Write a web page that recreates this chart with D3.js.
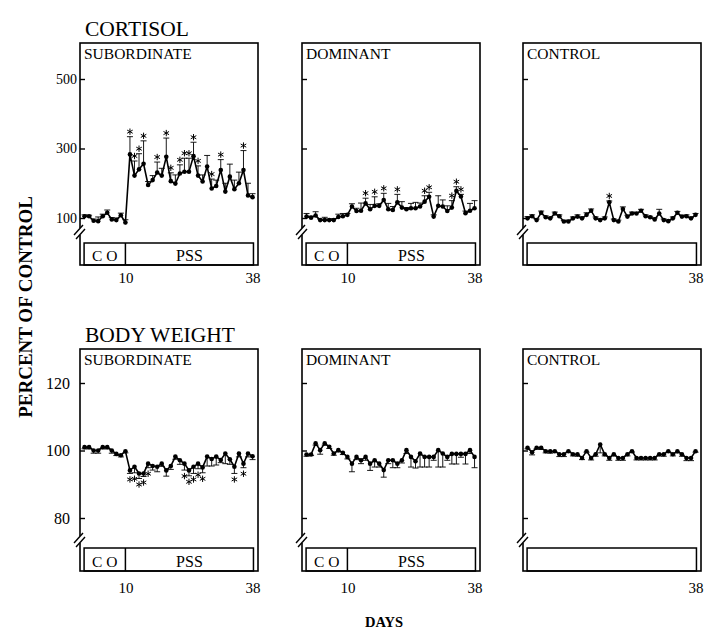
<!DOCTYPE html>
<html><head><meta charset="utf-8">
<script src="https://cdn.jsdelivr.net/npm/d3@7"></script>
<style>
body{margin:0;background:#fff}
svg{display:block}
text{font-family:"Liberation Serif","Times New Roman",serif;fill:#000}
</style>
</head><body>
<svg id="c" width="720" height="644"></svg>
<script>
// ---------------- data ----------------
const days = [1,2,3,4,5,6,7,8,9,10,11,12,13,14,15,16,17,18,19,20,21,22,23,24,25,26,27,28,29,30,31,32,33,34,35,36,37,38];

const cortSub    = [105,105,92,91,105,115,96,94,108,87,283,222,240,256,195,209,231,222,276,206,199,228,233,233,278,222,205,248,185,192,238,176,219,183,200,238,165,160];
const cortSubErr = [4,3,5,12,6,8,5,6,6,8,51,42,45,66,10,13,30,21,54,24,25,25,39,39,40,28,19,32,27,17,30,24,36,26,32,56,35,10];
const cortSubStars = [11,12,13,14,17,19,20,22,23,24,25,26,29,31,36];

const cortDom    = [104,101,107,94,94,94,94,103,105,109,133,120,121,142,125,135,135,152,125,123,145,130,125,128,128,133,147,161,104,135,133,120,130,178,162,114,121,128];
const cortDomErr = [9,4,11,3,8,3,4,8,8,4,8,8,22,15,14,26,6,19,17,10,23,17,5,14,17,10,17,13,5,29,19,15,20,12,6,6,21,22];
const cortDomStars = [14,16,18,21,27,28,33,34,35];

const cortCtl    = [99,105,94,115,102,99,113,105,90,90,99,104,99,109,121,99,94,99,145,94,90,126,104,113,113,121,105,102,96,113,94,91,99,115,104,105,99,109];
const cortCtlErr = [5,4,3,5,4,3,4,4,3,4,4,5,4,6,5,4,3,4,4,3,4,6,4,4,3,4,4,3,4,12,3,3,4,4,3,4,3,4];
const cortCtlStars = [19];

const bwSub    = [101,101,100,100,101,101,100,99,98.6,99.8,94.1,95.2,93.2,93.2,96.1,95.4,95.2,96.1,94.1,95.4,98.2,97.1,96.1,94.1,95.2,96.1,95.0,98.2,97.5,98.2,97.2,99.1,97.4,95.2,99.1,96.1,99.1,98.3];
const bwSubErr = [0.5,0.5,0.8,0.8,0.5,0.5,0.8,0.5,0.5,0.5,0.9,1.8,1.5,0.9,1.2,1.2,1.5,0.8,1.7,1.0,0.8,1.2,1.9,1.6,2.0,1.5,1.6,2.8,2.1,2.5,0.8,3.0,1.5,2.0,1.0,1.2,1.0,1.0];
const bwSubStars = [11,12,13,14,15,23,24,25,26,27,34,36];

const bwDom    = [98.8,98.8,102.1,100.1,102.1,101.1,99.1,100.1,99.3,98.1,96.1,98.1,97.1,98.1,96.1,97.1,96.1,94.2,97.1,97.1,96.1,97.1,100.1,98.1,96.8,99.1,98.1,98.1,98.1,100.1,99.1,98.1,99,99,99,99,100.1,98.1];
const bwDomErr = [0.5,0.3,0.5,1.2,0.5,0.5,0.5,0.5,0.5,0.6,2.4,0.8,1.0,1.0,2.0,2.0,1.0,2.1,1.0,2.2,1.2,0.8,1.0,3.0,2.0,4.0,3.0,3.0,1.0,5.0,4.0,1.0,3.0,3.0,1.0,3.0,1.0,3.2];
const bwDomStars = [];

const bwCtl    = [100.8,99.5,100.8,100.8,99.8,99.8,99.8,98.9,98.9,99.8,98.9,98.9,97.8,99.8,97.8,98.9,101.8,98.9,97.8,98.9,97.8,97.8,98.9,99.8,97.8,97.8,97.8,97.8,97.8,98.9,98.9,99.8,98.9,99.8,98.9,97.8,97.8,99.8];
const bwCtlErr = [0.3,0.8,0.3,0.5,0.5,0.6,0.3,0.7,0.7,0.3,0.5,0.6,0.5,0.3,0.6,0.6,2.5,0.5,0.7,0.5,0.7,0.7,0.5,0.3,0.6,0.6,0.6,0.6,0.6,0.5,0.6,0.3,0.5,0.5,0.6,0.8,0.8,0.3];
const bwCtlStars = [];

const cortTicks = [100,300,500];
const bwTicks   = [80,100,120];
const groups    = ["SUBORDINATE","DOMINANT","CONTROL"];
const rowTitles = ["CORTISOL","BODY WEIGHT"];
const dayLabels = [[10,38],[10,38],[38]];
const phaseLabels = ["C O","PSS"];
const yTitle = "PERCENT OF CONTROL";
const xTitle = "DAYS";

// ---------------- layout ----------------
const svg = d3.select("#c");
svg.append("rect").attr("width",720).attr("height",644).attr("fill","#fff");

const panelLeft = [80,302,523];
const panelW = 178;

// asterisk marker (significance) as a small 6-spoke path
const starR = 3.2;
const starPath = (() => {
  let s = "";
  for (let a = 0; a < 3; a++) {
    const t = Math.PI/2 + a*Math.PI/3;
    const dx = starR*Math.cos(t), dy = starR*Math.sin(t);
    s += `M${-dx},${-dy}L${dx},${dy}`;
  }
  return s;
})();

const rows = [
  {title:rowTitles[0], titleY:36, top:43, bottom:265, boxTop:243, breakY:231,
   y:d3.scaleLinear().domain([100,500]).range([218,79]), ticks:cortTicks, tickFont:14, tickPad:3,
   xPad:7.5, dir:1,
   series:[[cortSub,cortSubErr,cortSubStars],[cortDom,cortDomErr,cortDomStars],[cortCtl,cortCtlErr,cortCtlStars]]},
  {title:rowTitles[1], titleY:342, top:349, bottom:571, boxTop:548, breakY:539,
   y:d3.scaleLinear().domain([80,120]).range([518,383]), ticks:bwTicks, tickFont:16, tickPad:10,
   xPad:11, dir:-1,
   series:[[bwSub,bwSubErr,bwSubStars],[bwDom,bwDomErr,bwDomStars],[bwCtl,bwCtlErr,bwCtlStars]]}
];

rows.forEach(row => {
  svg.append("text").attr("x",85).attr("y",row.titleY)
     .attr("font-size",21.5).text(row.title);

  groups.forEach((g,i) => {
    const left = panelLeft[i];
    const x = d3.scaleLinear().domain([0,39.2]).range([left,left+panelW]);
    const y = row.y;
    const pg = svg.append("g");

    // frame
    pg.append("rect").attr("x",left).attr("y",row.top)
      .attr("width",panelW).attr("height",row.bottom-row.top)
      .attr("fill","none").attr("stroke","#000").attr("stroke-width",1.6);

    // axis break
    pg.append("rect").attr("x",left-2).attr("y",row.breakY-3).attr("width",4).attr("height",7).attr("fill","#fff");
    [[0,0],[2,4]].forEach(o=>{
      pg.append("line").attr("x1",left-6+o[0]).attr("y1",row.breakY+4+o[1])
        .attr("x2",left+3+o[0]).attr("y2",row.breakY-6+o[1])
        .attr("stroke","#000").attr("stroke-width",1.4);
    });

    // y axis
    const ya = pg.append("g").attr("transform",`translate(${left},0)`)
      .call(d3.axisLeft(y).tickValues(row.ticks).tickSize(-5).tickPadding(row.tickPad)
            .tickFormat(i===0 ? d3.format("d") : ()=>""));
    ya.select(".domain").remove();
    ya.selectAll("line").attr("stroke","#000").attr("stroke-width",1.4);
    ya.selectAll("text").attr("font-size",row.tickFont)
      .attr("font-family","Liberation Serif, serif").attr("fill","#000");

    // x labels
    const xa = pg.append("g").attr("transform",`translate(0,${row.bottom})`)
      .call(d3.axisBottom(x).tickValues(dayLabels[i]).tickSize(0).tickPadding(row.xPad).tickFormat(d3.format("d")));
    xa.select(".domain").remove();
    xa.selectAll("text").attr("font-size",15).attr("font-family","Liberation Serif, serif").attr("fill","#000");

    // phase box
    const bx0 = x(0.9), bx1 = x(38.2);
    pg.append("rect").attr("x",bx0).attr("y",row.boxTop).attr("width",bx1-bx0)
      .attr("height",row.bottom-row.boxTop).attr("fill","none").attr("stroke","#000").attr("stroke-width",1.5);
    if (i < 2) {
      const xd = x(10);
      pg.append("line").attr("x1",xd).attr("x2",xd).attr("y1",row.boxTop).attr("y2",row.bottom)
        .attr("stroke","#000").attr("stroke-width",1.5);
      pg.append("text").attr("x",(bx0+xd)/2).attr("y",row.bottom-4.5).attr("text-anchor","middle")
        .attr("font-size",15.5).text(phaseLabels[0]);
      pg.append("text").attr("x",(xd+bx1)/2).attr("y",row.bottom-4.5).attr("text-anchor","middle")
        .attr("font-size",16).text(phaseLabels[1]);
    }

    // panel label
    pg.append("text").attr("x",left+4).attr("y",row.top+16).attr("font-size",15.5).text(g);

    // data
    const [vals, errs, stars] = row.series[i];
    const pts = days.map((d,k)=>({day:d, v:vals[k], e:errs[k], star:stars.includes(d)}));
    const capY = p => y(p.v + row.dir*p.e);

    const eb = pg.append("g").attr("stroke","#000").attr("stroke-width",0.9);
    eb.selectAll(".v").data(pts).join("line")
      .attr("x1",p=>x(p.day)).attr("x2",p=>x(p.day))
      .attr("y1",p=>y(p.v)).attr("y2",capY);
    eb.selectAll(".c").data(pts).join("line")
      .attr("x1",p=>x(p.day)-3).attr("x2",p=>x(p.day)+3)
      .attr("y1",capY).attr("y2",capY);

    pg.append("path").datum(pts)
      .attr("d",d3.line().x(p=>x(p.day)).y(p=>y(p.v)))
      .attr("fill","none").attr("stroke","#000").attr("stroke-width",1.6);

    pg.selectAll(".pt").data(pts).join("circle")
      .attr("cx",p=>x(p.day)).attr("cy",p=>y(p.v)).attr("r",2.3).attr("fill","#000");

    pg.selectAll(".st").data(pts.filter(p=>p.star)).join("path")
      .attr("transform",p=>`translate(${x(p.day)},${row.dir>0 ? capY(p)-5 : capY(p)+6})`)
      .attr("d",starPath).attr("stroke","#000").attr("stroke-width",1).attr("fill","none");
  });
});

// axis titles
svg.append("text").attr("transform","translate(32,307) rotate(-90)")
  .attr("text-anchor","middle").attr("font-size",19).attr("font-weight","bold").text(yTitle);
svg.append("text").attr("x",384).attr("y",627).attr("text-anchor","middle")
  .attr("font-size",14.5).attr("font-weight","bold").text(xTitle);
</script>
</body></html>
